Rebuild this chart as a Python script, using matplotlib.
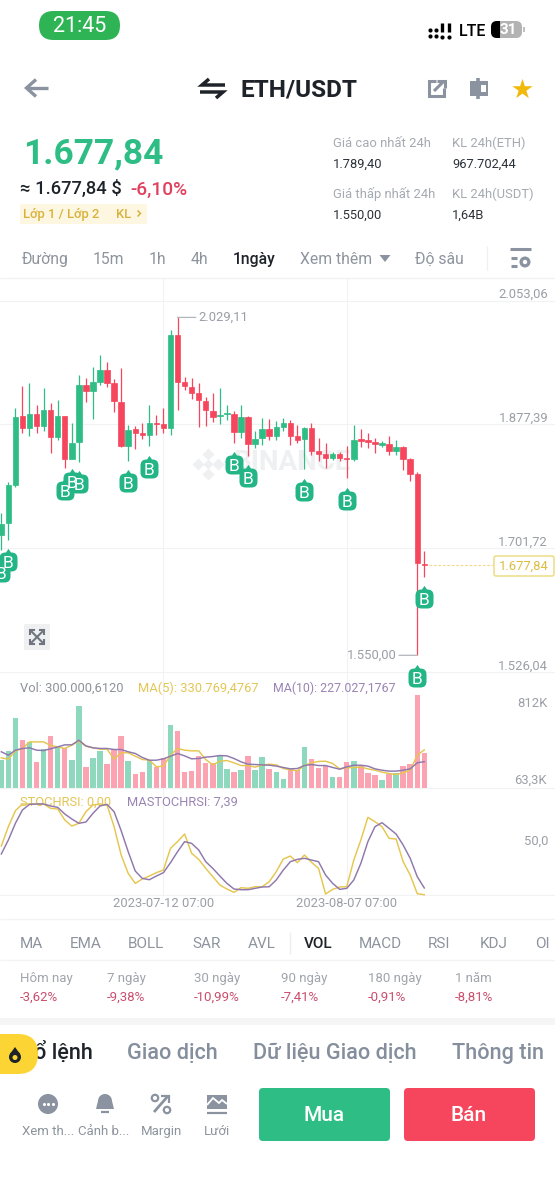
import matplotlib
matplotlib.use("Agg")
import matplotlib.pyplot as plt
from matplotlib.patches import FancyBboxPatch, Circle, Polygon, Rectangle
from matplotlib.path import Path

plt.rcParams['font.family'] = ['Roboto', 'Noto Sans', 'DejaVu Sans']

# ---------- data ----------
highs = [1751.8,1796.2,1900.2,1932.3,1935.6,1904.9,1929.4,1908.2,1911.5,1889.3,1878.9,1947.9,1943.6,1958.3,1975.3,1966.3,1941.7,1956.9,1877.0,1875.1,1878.9,1904.4,1891.2,1901.1,2011.2,2029.11,1945.0,1942.7,1935.6,1915.7,1921.4,1928.5,1904.4,1896.4,1904.4,1889.7,1867.5,1886.4,1885.0,1882.7,1886.0,1883.6,1876.5,1874.2,1878.9,1858.6,1850.5,1837.8,1837.8,1846.7,1876.0,1871.3,1865.2,1857.6,1853.8,1861.4,1855.3,1847.2,1830.2,1809.4,1698.3]
opens = [1720.6,1737.6,1791.4,1889.3,1871.8,1891.6,1875.1,1897.8,1859.0,1889.3,1827.8,1851.9,1932.8,1924.7,1937.0,1955.0,1935.6,1909.6,1846.3,1870.4,1864.7,1862.8,1879.8,1877.5,1871.8,2004.1,1937.5,1930.9,1921.4,1911.0,1896.8,1889.7,1891.6,1891.6,1866.1,1887.9,1850.0,1857.6,1870.9,1861.4,1874.2,1879.8,1860.9,1856.2,1872.7,1839.2,1835.4,1830.2,1835.9,1829.7,1828.3,1856.2,1854.8,1851.9,1848.6,1849.6,1840.1,1845.3,1828.8,1807.5,1680.0]
closes = [1736.2,1790.8,1888.3,1871.8,1891.6,1875.1,1897.8,1859.0,1889.3,1827.8,1851.0,1932.8,1924.7,1937.0,1955.0,1936.5,1910.5,1846.3,1869.9,1865.6,1862.3,1879.4,1878.4,1871.8,2004.1,1937.9,1931.8,1921.4,1911.5,1897.3,1888.3,1891.2,1893.1,1866.1,1887.9,1850.0,1856.7,1870.9,1860.9,1873.7,1879.8,1861.4,1855.3,1872.7,1839.7,1835.4,1830.2,1835.9,1830.2,1827.8,1855.3,1854.3,1852.4,1849.6,1850.5,1840.1,1845.3,1828.8,1807.5,1681.3,1677.84]
lows = [1699.3,1713.5,1788.1,1865.6,1860.9,1864.7,1868.5,1836.4,1855.3,1816.0,1827.8,1824.5,1909.1,1885.5,1933.7,1930.9,1894.5,1845.8,1825.5,1842.5,1856.2,1846.7,1862.3,1864.7,1862.3,1897.8,1926.1,1913.4,1873.2,1875.1,1881.2,1877.9,1883.6,1850.5,1857.6,1833.0,1843.4,1848.2,1855.3,1855.3,1868.5,1847.7,1850.5,1813.7,1834.0,1825.5,1815.1,1826.9,1825.9,1801.8,1825.5,1845.8,1844.4,1837.3,1845.8,1834.0,1834.5,1812.7,1797.6,1550.0,1661.5]

volumes = [240,322,615,416,401,226,337,457,366,343,240,715,176,255,319,205,337,457,231,123,135,240,176,261,548,498,132,147,275,217,211,290,164,132,152,275,152,270,164,135,73,161,158,357,252,173,188,94,94,223,234,193,126,111,62,123,129,185,205,812,300]
vol_ma5 = [261,249,322,343,401,401,401,369,357,343,372,407,363,349,337,337,249,305,305,275,246,240,182,188,284,343,328,322,322,246,199,231,237,217,193,193,179,196,205,199,167,155,147,193,217,229,231,211,164,173,176,179,164,152,135,123,114,129,152,284,331]
vol_ma10 = [314,284,328,343,349,328,325,340,357,375,375,416,366,349,343,343,334,334,314,299,264,240,240,252,275,299,278,252,255,267,272,281,278,255,226,205,202,199,196,188,176,164,167,193,202,193,193,176,161,182,196,196,188,164,152,144,144,152,164,217,227]

stoch = [53.7,75,92.6,100,100,100,100,95.2,94.5,82.4,75.7,78.7,91.5,98.9,100,98.9,75,43.8,23.5,12.5,17.3,20.6,24.3,27.2,51.1,58.5,66.9,45.6,39,29,19.9,10.7,6.3,2.6,7.7,7,8.8,8.8,14.3,25.4,39.3,42.6,35.3,43.8,35.7,29,0.7,5.9,8.5,8.8,38.2,60.3,85.3,80.5,75,62.1,61.4,36.4,21.7,1.1,0]
ma_stoch = [44.9,60.3,78.7,93.4,99.6,100,100,97.8,96.3,89,83.5,78.7,80.1,89.7,97.8,99.6,91.5,70.6,47.4,26.1,18,16.5,20.6,24.3,35.3,47.4,58.5,56.6,49.3,36.4,29,20.6,12.5,6.3,5.5,5.5,7,8.5,8.8,16.2,27.2,36.4,39,40.1,38.2,36.4,21.7,12.5,5.9,7,16.2,34.6,58.5,75,79.4,73.2,66.9,54.8,40.1,19.9,7.39]

signal_idx = [0,1,9,10,11,18,21,33,35,43,49,60,59]
signal_price = [1666.7,1682.3,1783.4,1796.2,1792.5,1794.7,1814.6,1819.8,1801.0,1781.6,1769.2,1629.4,1517.4]

price_ticks = [2053.06,1877.39,1701.72,1526.04]
price_labels = ['2.053,06','1.877,39','1.701,72','1.526,04']
date_idx = [23,49]
date_labels = ['2023-07-12 07:00','2023-08-07 07:00']
indicator_tabs = ['MA','EMA','BOLL','SAR','AVL','VOL','MACD','RSI','KDJ','OI']
period_names = ['Hôm nay','7 ngày','30 ngày','90 ngày','180 ngày','1 năm']
period_values = ['-3,62%','-9,38%','-10,99%','-7,41%','-0,91%','-8,81%']

GREEN = '#2ebd85'; RED = '#f6465d'; GV = '#8ed9bd'; RV = '#fba3b0'
YEL = '#e6c64f'; PUR = '#8f78ad'; GRID = '#f1f2f3'; GRAY = '#9a9fa7'; ICON = '#8a939f'; DARK = '#1e2329'

W, H = 555, 1200
fig = plt.figure(figsize=(W/100, H/100), dpi=100, facecolor='white')

def axes_px(y0, y1, z):
    a = fig.add_axes([0, 1-y1/H, 1, (y1-y0)/H], zorder=z)
    a.patch.set_alpha(0)
    return a

ui = fig.add_axes([0, 0, 1, 1], zorder=0)
ui.set_xlim(0, W); ui.set_ylim(H, 0); ui.axis('off')

def T(x, y, s, size=9.3, color=GRAY, weight='normal', ha='left', **kw):
    return ui.text(x, y + size*0.1, s, fontsize=size, color=color, fontweight=weight, ha=ha, va='center', **kw)
def rr(x0, y0, x1, y1, r, fc, ec='none', lw=0, z=1):
    ui.add_patch(FancyBboxPatch((x0, y0), x1-x0, y1-y0, boxstyle=f'round,pad=0,rounding_size={r}', fc=fc, ec=ec, lw=lw, zorder=z))
def L(xs, ys, c=ICON, lw=2.0, z=3, cap='butt', join='miter'):
    ui.plot(xs, ys, color=c, lw=lw, solid_capstyle=cap, solid_joinstyle=join, zorder=z)

# ---------- status bar ----------
rr(39, 11, 120, 40, 14.5, '#2fb455')
T(79.5, 25, '21:45', 15.5, 'white', ha='center', zorder=5)
for cx in (429.5, 435.5):
    ui.scatter([cx, cx], [30, 36], s=9, color='black', zorder=3, linewidths=0)
for cx in (442, 448.5):
    L([cx, cx], [23, 32], 'black', 2.4)
    ui.scatter([cx], [36.5], s=9, color='black', zorder=3, linewidths=0)
T(459, 30, 'LTE', 11.5, 'black', 'medium')
rr(491, 21, 522, 38, 6, '#b3b3b3', z=2)
rr(491, 21, 506, 38, 6, 'black', z=3)
ui.add_patch(Rectangle((500, 21), 8, 17, fc='#b3b3b3', ec='none', zorder=4))
ui.text(508, 30, '31', fontsize=11, color='white', fontweight='bold', ha='center', va='center', zorder=5)
L([524, 524], [27, 32], '#b3b3b3', 1.2)

# ---------- header ----------
L([48, 27], [88, 88], ICON, 2.4)
L([36, 26.5, 36], [79.5, 88, 96.5], ICON, 2.4)
L([209, 202, 225], [79, 85, 85], DARK, 2.5)
L([200, 223, 216], [92, 92, 98], DARK, 2.5)
T(240, 88, 'ETH/USDT', 17.6, DARK, 'bold')
L([436, 428.5, 428.5, 444, 444], [81, 81, 96, 96, 88], ICON, 2.2)
L([434, 444], [91, 81], ICON, 2.2)
L([437, 444.5, 444.5], [81, 81, 88], ICON, 2.2)
ui.add_patch(Rectangle((470, 81), 18, 15, fc=ICON, ec='none', zorder=3))
ui.add_patch(Rectangle((481, 85), 4.5, 7, fc='white', ec='none', zorder=4))
L([478, 478], [78, 99], ICON, 2.6)
ui.scatter([522], [89], marker='*', s=235, color='#f0b90b', linewidths=0, zorder=3)

# ---------- price block ----------
T(23, 151.5, '1.677,84', 25.4, GREEN, 'bold')
T(20, 188, '≈ 1.677,84 $', 13.2, DARK, 'medium')
T(130, 188, '-6,10%', 13.8, '#e0405e', 'medium')
rr(20, 204, 147, 224, 2, '#fdf6e1')
T(23, 213.5, 'Lớp 1 / Lớp 2', 9.4, '#d8b23c', 'medium')
T(116, 213.5, 'KL', 9.4, '#d8b23c', 'medium')
L([137.5, 140.5, 137.5], [210.5, 213.5, 216.5], '#d8b23c', 1.1)
for x, a, b in [(333, 'Giá cao nhất 24h', '1.789,40'), (452, 'KL 24h(ETH)', '967.702,44')]:
    T(x, 142.5, a, 9.4, '#a5aab1'); T(x, 163.5, b, 9.3, '#2b3139')
for x, a, b in [(333, 'Giá thấp nhất 24h', '1.550,00'), (452, 'KL 24h(USDT)', '1,64B')]:
    T(x, 193.5, a, 9.4, '#a5aab1'); T(x, 214.5, b, 9.3, '#2b3139')

# ---------- interval tabs ----------
for x, s in [(22, 'Đường'), (93, '15m'), (149, '1h'), (191, '4h'), (300, 'Xem thêm'), (415, 'Độ sâu')]:
    T(x, 258.5, s, 11.3, '#8d949d')
T(233, 258.5, '1ngày', 11.3, DARK, 'medium')
ui.add_patch(Polygon([[379.5, 255], [390.5, 255], [385, 262]], fc=ICON, ec='none', zorder=3))
L([487, 487], [246, 270], '#eef0f1', 1)
L([510, 531], [249, 249], ICON, 2.2)
L([511, 517], [258, 258], ICON, 2.2)
L([511, 517], [266, 266], ICON, 2.2)
ui.add_patch(Circle((525, 262), 5.5, fc=ICON, ec='none', zorder=3))
ui.add_patch(Circle((525, 262), 2.2, fc='white', ec='none', zorder=4))
L([0, W], [278, 278], '#f1f2f3', 1)

# ---------- watermark + expand button ----------
for dx, dy, s in [(0, -10, 38), (-10, 0, 38), (10, 0, 38), (0, 10, 38), (0, 0, 26)]:
    ui.scatter([208+dx], [464+dy], marker='D', s=s, color='#eff0f2', linewidths=0, zorder=1)
ui.text(292, 463, 'BINANCE', fontsize=20, color='#eff0f2', fontweight='bold', ha='center', va='center', zorder=1)
rr(24, 624, 50, 650, 1, '#eef0f2')
for a, b, c, d in [(30, 630, 44, 644), (44, 630, 30, 644)]:
    L([a, c], [b, d], '#6f7680', 1.5, z=3)
L([30, 30, 35], [635, 630, 630], '#6f7680', 1.5); L([44, 44, 39], [639, 644, 644], '#6f7680', 1.5)
L([39, 44, 44], [630, 630, 635], '#6f7680', 1.5); L([35, 30, 30], [644, 644, 639], '#6f7680', 1.5)

# ---------- chart axes ----------
x_left = -1.3/7.05; x_right = (W-1.3)/7.05
def y2p(y):
    return 2053.06 - (y-300.5)*1.4178
ax = axes_px(278, 676, 3)
ax.set_xlim(x_left, x_right); ax.set_ylim(y2p(676), y2p(278))
vol = axes_px(676, 787.5, 2)
vol.set_xlim(x_left, x_right); vol.set_ylim(0, 111.5*8.79)
rsi = axes_px(787.5, 894.7, 2)
rsi.set_xlim(x_left, x_right); rsi.set_ylim(0, (894.7-787.5)/0.907)

for a in (ax, vol, rsi):
    for s in a.spines.values():
        s.set_visible(False)
    a.set_xticks(date_idx)
    a.set_xticklabels([])
    a.tick_params(length=0, labelleft=False)
    a.grid(axis='x', color=GRID, lw=0.8)
    a.set_axisbelow(True)
    a.set_yticks([])

ax.set_yticks(price_ticks)
ax.set_yticklabels([])
ax.grid(axis='y', color=GRID, lw=0.8)
for p, s in zip(price_ticks, price_labels):
    ax.annotate(s, xy=(1, p), xycoords=ax.get_yaxis_transform(), xytext=(-7, 6), textcoords='offset pixels',
                ha='right', va='center', fontsize=9.4, color=GRAY)

n = len(opens)
idx = list(range(n))
up = [closes[i] >= opens[i] for i in idx]
cols = [GREEN if u else RED for u in up]
ax.vlines(idx, lows, highs, colors=cols, lw=0.9, zorder=3)
ax.bar(idx, [abs(closes[i]-opens[i]) for i in idx], bottom=[min(opens[i], closes[i]) for i in idx],
       width=0.78, color=cols, edgecolor=cols, linewidth=0.5, zorder=4)

# extreme labels
hi_i = highs.index(max(highs)); lo_i = lows.index(min(lows))
ax.annotate('2.029,11', xy=(hi_i, highs[hi_i]), xytext=(21, 0), textcoords='offset pixels', va='center', ha='left',
            fontsize=9.4, color=GRAY, arrowprops=dict(arrowstyle='-', color='#b3b7bc', lw=0.9, shrinkA=0, shrinkB=0))
ax.annotate('1.550,00', xy=(lo_i, lows[lo_i]), xytext=(-21, 0), textcoords='offset pixels', va='center', ha='right',
            fontsize=9.4, color=GRAY, arrowprops=dict(arrowstyle='-', color='#b3b7bc', lw=0.9, shrinkA=0, shrinkB=0))

# last price line + box
ax.plot([60.6, (493-1.3)/7.05], [closes[-1], closes[-1]], color='#f5d88a', lw=0.8, ls=(0, (2.5, 1.5)), zorder=2)
rr(494, 556, 554, 576, 2, 'white', '#ecd977', 1, z=2)
ui.text(524, 566, '1.677,84', fontsize=9.4, color='#dcbc42', ha='center', va='center', zorder=3)

# signal bubbles
bubble = Path(
    [(-3,-9),(3,-9),(9,-9),(9,-3),(9,4),(9,10),(3,10),(2.5,10),(0,13.6),(-2.5,10),(-3,10),(-9,10),(-9,4),(-9,-3),(-9,-9),(-3,-9),(-3,-9)],
    [Path.MOVETO,Path.LINETO,Path.CURVE3,Path.CURVE3,Path.LINETO,Path.CURVE3,Path.CURVE3,Path.LINETO,Path.LINETO,Path.LINETO,Path.LINETO,Path.CURVE3,Path.CURVE3,Path.LINETO,Path.CURVE3,Path.CURVE3,Path.CLOSEPOLY])
for k, (i, p) in enumerate(zip(signal_idx, signal_price)):
    ax.scatter([i], [p], marker=bubble, s=(27.2/1.389)**2, color='#23b585', linewidths=0, zorder=5+k, clip_on=False)
    ax.text(i, p, 'B', fontsize=12.5, color='white', ha='center', va='center_baseline', zorder=30+k, clip_on=False)

# volume
vol_cols = [GV if u else RV for u in up]
vol.bar(idx, volumes, width=0.78, color=vol_cols, linewidth=0, zorder=2)
vol.plot(idx, vol_ma5, color=YEL, lw=1.05, zorder=3)
vol.plot(idx, vol_ma10, color=PUR, lw=1.05, zorder=4)
vol.spines['bottom'].set_visible(True); vol.spines['bottom'].set_color(GRID)
for val, s, off in [(812, '812K', -8), (63.3, '63,3K', 0)]:
    vol.annotate(s, xy=(1, val), xycoords=vol.get_yaxis_transform(), xytext=(-8, off), textcoords='offset pixels',
                 ha='right', va='center', fontsize=9.4, color=GRAY)
for x, s, c, fs in [(20, 'Vol: 300.000,6120', '#8d9299', 9.3), (138, 'MA(5): 330.769,4767', '#e3c655', 9.3), (273, 'MA(10): 227.027,1767', '#9a84b3', 8.95)]:
    vol.annotate(s, xy=(x, 688), xycoords=ui.transData, ha='left', va='center', fontsize=fs, color=c)

# stoch rsi
rsi.plot(idx, stoch, color=YEL, lw=1.05, zorder=3, clip_on=False)
rsi.plot(idx, ma_stoch, color=PUR, lw=1.05, zorder=4, clip_on=False)
rsi.spines['bottom'].set_visible(True); rsi.spines['bottom'].set_color(GRID)
rsi.set_xticklabels(date_labels, fontsize=9.4, color=GRAY)
rsi.tick_params(axis='x', pad=1.5)
rsi.annotate('50,0', xy=(1, 50), xycoords=rsi.get_yaxis_transform(), xytext=(-7, 8), textcoords='offset pixels',
             ha='right', va='center', fontsize=9.4, color=GRAY)
for x, s, c in [(20, 'STOCHRSI: 0,00', '#e3c655'), (127, 'MASTOCHRSI: 7,39', '#9a84b3')]:
    rsi.annotate(s, xy=(x, 802), xycoords=ui.transData, ha='left', va='center', fontsize=9.3, color=c)

# ---------- indicator tabs ----------
L([0, W], [919, 919], '#f3f4f5', 1)
for x, s in zip([20, 70, 128, 192, 248, 304, 359, 428, 480, 535], indicator_tabs):
    if s == 'VOL':
        T(x, 942.5, s, 11, DARK, 'medium')
    else:
        T(x, 942.5, s, 11, '#8d949d')
L([290, 290], [932, 954], '#eceef0', 1)
L([0, W], [960, 960], '#f3f4f5', 1)
for x, a, b in zip([20, 107, 194, 281, 368, 455], period_names, period_values):
    T(x, 977.5, a, 9.5, '#a0a5ac')
    T(x, 996.5, b, 9.5, '#c94f6d')
ui.add_patch(Rectangle((0, 1018), W, 7, fc='#f5f5f5', ec='none', zorder=1))

# ---------- bottom tabs ----------
T(93, 1051.5, 'Sổ lệnh', 15.6, DARK, 'medium', ha='right')
T(127, 1051.5, 'Giao dịch', 15.6, '#848e9c', 'medium')
T(253, 1051.5, 'Dữ liệu Giao dịch', 15.6, '#848e9c', 'medium')
T(452, 1051.5, 'Thông tin', 15.6, '#848e9c', 'medium')
ui.add_patch(FancyBboxPatch((-30, 1034), 68, 40, boxstyle='round,pad=0,rounding_size=20', fc='#fcd535', ec='none', zorder=6, clip_on=True))
ui.add_patch(Circle((15, 1057), 6, fc='#1e2329', ec='none', zorder=7))
ui.add_patch(Polygon([[10, 1054], [20, 1054], [15, 1047]], fc='#1e2329', ec='none', zorder=7))
ui.add_patch(Circle((15, 1057.5), 2.5, fc='#fcd535', ec='none', zorder=8))

# ---------- action icons ----------
ui.add_patch(Circle((48, 1104), 10, fc=ICON, ec='none', zorder=3))
ui.scatter([43.5, 48, 52.5], [1104]*3, s=5, color='white', linewidths=0, zorder=4)
ui.add_patch(Circle((105, 1101), 7, fc=ICON, ec='none', zorder=3))
ui.add_patch(Polygon([[98, 1101], [112, 1101], [114, 1109], [96, 1109]], fc=ICON, ec='none', zorder=3))
L([101, 109], [1112, 1112], ICON, 1.6)
ui.add_patch(Circle((155, 1098), 3.2, fc='white', ec=ICON, lw=1.6, zorder=3))
ui.add_patch(Circle((167, 1110), 3.2, fc='white', ec=ICON, lw=1.6, zorder=3))
L([154, 168], [1112, 1096], ICON, 2)
L([161, 169, 169], [1096, 1096, 1103], ICON, 1.6)
ui.add_patch(Polygon([[207, 1095], [227, 1095], [227, 1109], [207, 1109]], fc=ICON, ec='none', zorder=3))
L([207, 213, 219, 222, 227], [1105, 1098, 1103, 1100, 1104], 'white', 1.3, z=4)
L([207, 227], [1112.5, 1112.5], ICON, 1.6)
for x, s in [(48, 'Xem th...'), (104, 'Cảnh b...'), (161, 'Margin'), (217, 'Lưới')]:
    T(x, 1130.5, s, 9.5, '#8d949d', ha='center')

# ---------- buttons ----------
rr(259, 1088, 390, 1141, 4, GREEN)
rr(404, 1088, 535, 1141, 4, RED)
T(324, 1114, 'Mua', 15, 'white', 'medium', ha='center', zorder=3)
T(469, 1114, 'Bán', 15, 'white', 'medium', ha='center', zorder=3)

fig.savefig('out.png', dpi=100, facecolor='white')
